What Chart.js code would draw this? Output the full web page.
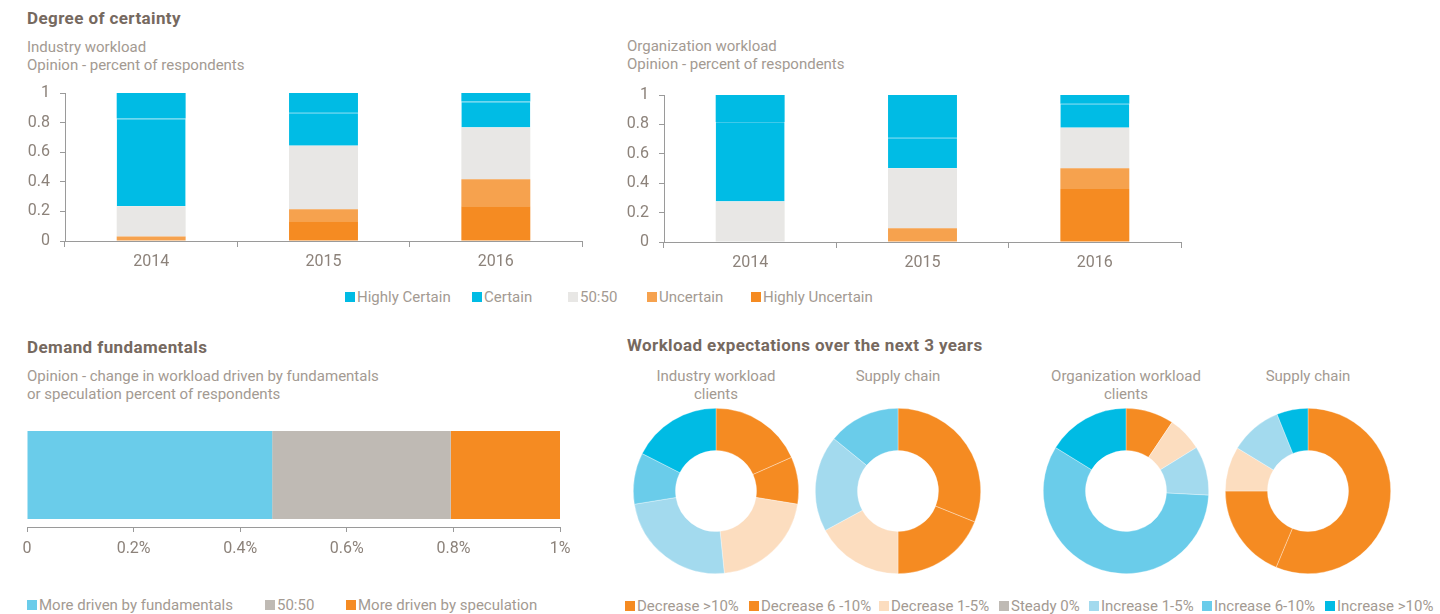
<!DOCTYPE html>
<html><head><meta charset="utf-8">
<script src="https://cdn.jsdelivr.net/npm/chart.js@4.4.1/dist/chart.umd.min.js"></script>
<style>
html,body{margin:0;padding:0;background:#fff;width:1440px;height:614px;overflow:hidden;font-family:Roboto,"Noto Sans",sans-serif;}
.t{position:absolute;white-space:nowrap;}
.h{font-weight:700;font-size:17px;letter-spacing:0.4px;color:#76695f;line-height:20px;}
.sub{font-size:15px;color:#a39a92;line-height:18px;}
.box{position:absolute;}
.it{position:absolute;display:flex;align-items:center;font-size:15px;color:#a39a92;white-space:nowrap;line-height:16px;}
.it .sw{display:inline-block;width:10px;height:10px;margin-right:2px;}
.dt{position:absolute;width:200px;text-align:center;font-size:15px;color:#a39a92;line-height:18px;}
</style></head><body>

<div class="t h" style="left:27px;top:8px;">Degree of certainty</div>
<div class="t sub" style="left:27px;top:38px;">Industry workload<br>Opinion - percent of respondents</div>
<div class="t sub" style="left:627px;top:37px;">Organization workload<br>Opinion - percent of respondents</div>
<div class="box" style="left:0;top:80px;width:592px;height:200px;"><canvas id="c1"></canvas></div>
<div class="box" style="left:600px;top:80px;width:590px;height:200px;"><canvas id="c2"></canvas></div>
<div id="leg1"></div>

<div class="t h" style="left:27px;top:337px;">Demand fundamentals</div>
<div class="t sub" style="left:27px;top:367px;">Opinion - change in workload driven by fundamentals<br>or speculation percent of respondents</div>
<div class="box" style="left:0;top:415px;width:600px;height:150px;"><canvas id="c3"></canvas></div>
<div id="leg2"></div>

<div class="t h" style="left:627px;top:335px;">Workload expectations over the next 3 years</div>
<div class="dt" style="left:616px;top:367px;">Industry workload<br>clients</div>
<div class="dt" style="left:798px;top:367px;">Supply chain</div>
<div class="dt" style="left:1026px;top:367px;">Organization workload<br>clients</div>
<div class="dt" style="left:1208px;top:367px;">Supply chain</div>
<div class="box" style="left:633px;top:408px;width:166px;height:166px;"><canvas id="d1"></canvas></div>
<div class="box" style="left:815px;top:408px;width:166px;height:166px;"><canvas id="d2"></canvas></div>
<div class="box" style="left:1043px;top:408px;width:166px;height:166px;"><canvas id="d3"></canvas></div>
<div class="box" style="left:1225px;top:408px;width:166px;height:166px;"><canvas id="d4"></canvas></div>
<div id="leg3"></div>

<script>
// ---------- data ----------
const years = ['2014', '2015', '2016'];
const certaintyLabels = ['Highly Certain', 'Certain', '50:50', 'Uncertain', 'Highly Uncertain'];
const industryHighlyCertain   = [0.172, 0.133, 0.058];
const industryCertain         = [0.594, 0.223, 0.175];
const industryFifty           = [0.204, 0.430, 0.349];
const industryUncertain       = [0.030, 0.080, 0.184];
const industryHighlyUncertain = [0.000, 0.134, 0.234];
const orgHighlyCertain   = [0.183, 0.291, 0.060];
const orgCertain         = [0.541, 0.207, 0.163];
const orgFifty           = [0.276, 0.409, 0.275];
const orgUncertain       = [0.000, 0.093, 0.142];
const orgHighlyUncertain = [0.000, 0.000, 0.360];

const demandLabels = ['More driven by fundamentals', '50:50', 'More driven by speculation'];
const demandValues = [0.46, 0.335, 0.205];

const expLabels = ['Decrease >10%', 'Decrease 6 -10%', 'Decrease 1-5%', 'Steady 0%', 'Increase 1-5%', 'Increase 6-10%', 'Increase >10%'];
const industryClients = [18.3, 9.2, 20.8, 0, 24.0, 10.0, 17.5];
const industrySupply  = [31.1, 18.9, 17.1, 0, 18.8, 14.1, 0];
const orgClients      = [9.4, 0, 6.8, 0, 9.6, 58.0, 16.2];
const orgSupply       = [56.3, 18.7, 8.7, 0, 10.2, 0, 6.1];

// ---------- styles / layout ----------
const certaintyColors = ['#00BBE4', '#00BCE5', '#E8E7E5', '#F6A24E', '#F58B22'];
const demandColors = ['#6ACCEA', '#BFBAB4', '#F58B22'];
const expColors = ['#F58B22', '#F58B22', '#FCDDBF', '#BFBAB4', '#A3DAEE', '#6ACCEA', '#00BBE4'];
const tickColor = '#8c827a';
const axisColor = '#9a9a9a';
const leg1Pos = {top: 289, left: [345, 472, 568, 647, 751]};
const leg2Pos = {top: 597, left: [27, 265, 346]};
const leg3Pos = {top: 598, left: [625, 749, 879, 999, 1089, 1202, 1325]};

Chart.defaults.font.family = 'Roboto, "Noto Sans", sans-serif';
Chart.defaults.animation = false;
Chart.defaults.devicePixelRatio = 1;

function makeLegend(id, labels, colors, pos) {
  const el = document.getElementById(id);
  labels.forEach((l, i) => {
    const it = document.createElement('div'); it.className = 'it';
    it.style.left = pos.left[i] + 'px'; it.style.top = pos.top + 'px';
    const sw = document.createElement('span'); sw.className = 'sw'; sw.style.background = colors[i];
    it.appendChild(sw); it.appendChild(document.createTextNode(l));
    el.appendChild(it);
  });
}
makeLegend('leg1', certaintyLabels, certaintyColors, leg1Pos);
makeLegend('leg2', demandLabels, demandColors, leg2Pos);
makeLegend('leg3', expLabels, expColors, leg3Pos);

function certaintyChart(id, hc, c, f, u, hu, yW, xH, pad) {
  const vals = [hc, c, f, u, hu];
  // stack bottom to top: Highly Uncertain ... Highly Certain
  const ds = [4, 3, 2, 1, 0].map(i => ({
    label: certaintyLabels[i], data: vals[i], backgroundColor: certaintyColors[i],
    borderWidth: i === 1 ? {top: 1, left: 0, right: 0, bottom: 0} : 0,
    borderColor: '#3FC9EA', borderSkipped: false,
    barPercentage: 0.4, categoryPercentage: 1.0, stack: 's'
  }));
  new Chart(document.getElementById(id), {
    type: 'bar',
    data: {labels: years, datasets: ds},
    options: {
      responsive: true, maintainAspectRatio: false,
      layout: {padding: pad},
      plugins: {legend: {display: false}, tooltip: {enabled: false}},
      scales: {
        x: {stacked: true,
            grid: {display: true, drawOnChartArea: false, tickLength: 6, color: axisColor, offset: true},
            border: {display: true, color: axisColor, width: 1},
            ticks: {color: tickColor, font: {size: 16}, padding: 5},
            afterFit: s => { s.height = xH; }},
        y: {stacked: true, min: 0, max: 1,
            grid: {display: true, drawOnChartArea: false, tickLength: 5, color: axisColor},
            border: {display: true, color: axisColor, width: 1},
            ticks: {stepSize: 0.2, color: tickColor, font: {size: 16}, padding: 10,
                    callback: v => String(Math.round(v * 10) / 10)},
            afterFit: s => { s.width = yW; s.paddingTop = 0; s.paddingBottom = 0; }}
      }
    }
  });
}
certaintyChart('c1', industryHighlyCertain, industryCertain, industryFifty, industryUncertain, industryHighlyUncertain, 65, 39, {left: 0, top: 13, right: 10, bottom: 0});
certaintyChart('c2', orgHighlyCertain, orgCertain, orgFifty, orgUncertain, orgHighlyUncertain, 64, 38, {left: 0, top: 15, right: 9, bottom: 0});

new Chart(document.getElementById('c3'), {
  type: 'bar',
  data: {labels: [''], datasets: demandLabels.map((l, i) => ({
    label: l, data: [demandValues[i]], backgroundColor: demandColors[i], borderWidth: 0,
    barPercentage: 0.846, categoryPercentage: 1.0
  }))},
  options: {
    indexAxis: 'y', responsive: true, maintainAspectRatio: false,
    layout: {padding: {left: 27, right: 40, top: 8, bottom: 0}},
    plugins: {legend: {display: false}, tooltip: {enabled: false}},
    scales: {
      x: {stacked: true, min: 0, max: 1,
          grid: {display: true, drawOnChartArea: false, tickLength: 5, color: axisColor},
          border: {display: true, color: axisColor, width: 1},
          ticks: {stepSize: 0.2, color: tickColor, font: {size: 16}, padding: 7,
                  callback: v => v === 0 ? '0' : (Math.round(v * 10) / 10) + '%'},
          afterFit: s => { s.height = 38; }},
      y: {stacked: true, display: false}
    }
  }
});

function donut(id, vals) {
  new Chart(document.getElementById(id), {
    type: 'doughnut',
    data: {labels: expLabels, datasets: [{data: vals, backgroundColor: expColors,
      borderWidth: 0.6, borderColor: 'rgba(255,255,255,0.55)'}]},
    options: {
      responsive: true, maintainAspectRatio: false, cutout: '49%',
      layout: {padding: 0},
      plugins: {legend: {display: false}, tooltip: {enabled: false}}
    }
  });
}
donut('d1', industryClients);
donut('d2', industrySupply);
donut('d3', orgClients);
donut('d4', orgSupply);
</script>
</body></html>
